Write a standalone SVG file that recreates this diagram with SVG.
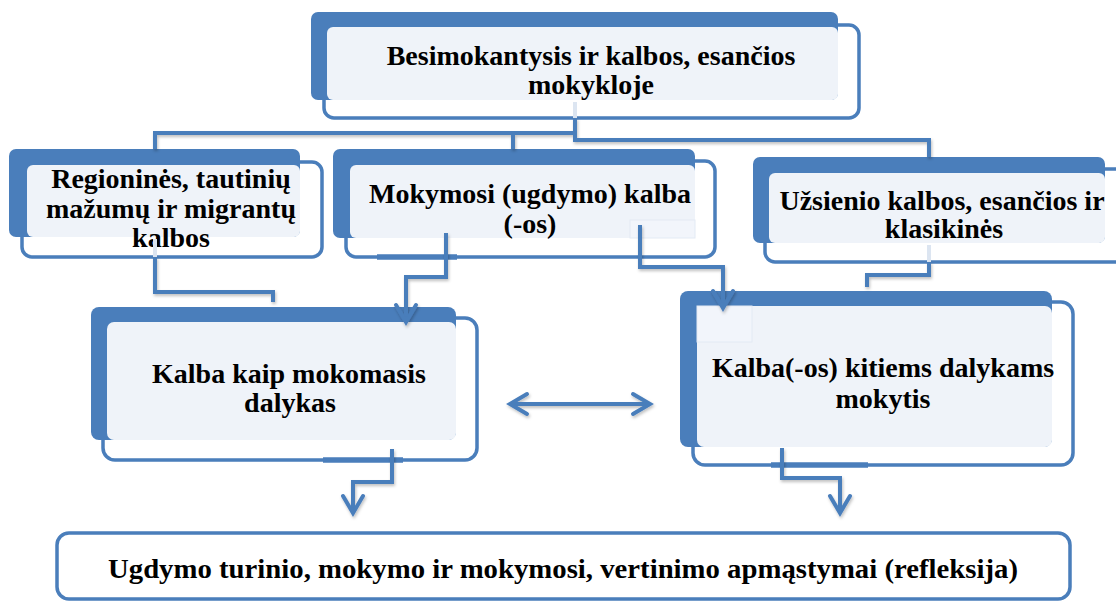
<svg xmlns="http://www.w3.org/2000/svg" width="1116" height="601" viewBox="0 0 1116 601">
  <style>
    .band { fill: #4A7EBB; }
    .frame { fill: #FFFFFF; stroke: #4A7EBB; stroke-width: 3.5; }
    .inner { fill: #EFF3F9; }
    .ghost { fill: #F2F5FB; stroke: #E3EAF4; stroke-width: 1; }
    .lbl { font-family: "Liberation Serif", "Times New Roman", serif; font-weight: bold; font-size: 28px; fill: #000000; text-anchor: middle; }
    .wire { fill: none; stroke: #4A7EBB; stroke-width: 4; stroke-linejoin: miter; }
    .pale { fill: none; stroke: #DCE5F1; stroke-width: 4; }
    .thick { fill: none; stroke: #4A7EBB; stroke-width: 5.5; }
  </style>
  <defs>
    <marker id="chev" viewBox="-22 -14 26 28" refX="0" refY="0" markerWidth="26" markerHeight="28" markerUnits="userSpaceOnUse" orient="auto-start-reverse">
      <path d="M -17 -10 L 0 0 L -17 10" fill="none" stroke="#4A7EBB" stroke-width="4" stroke-linecap="round" stroke-linejoin="miter"/>
    </marker>
    <filter id="shade" x="-20%" y="-20%" width="140%" height="140%">
      <feDropShadow dx="1" dy="2" stdDeviation="1.5" flood-color="#000000" flood-opacity="0.25"/>
    </filter>
  </defs>

  <!-- top node -->
  <g id="node-top">
    <rect class="frame" x="324" y="25" width="535" height="93" rx="10"/>
    <rect class="band" x="311" y="12" width="527" height="88" rx="7"/>
    <rect class="inner" x="327" y="27" width="511" height="73" rx="6"/>
    <text class="lbl" x="591" y="65">Besimokantysis ir kalbos, esančios</text>
    <text class="lbl" x="591" y="94">mokykloje</text>
  </g>

  <!-- regional / minority / migrant languages -->
  <g id="node-regional">
    <rect class="frame" x="22" y="162" width="300" height="95" rx="10"/>
    <rect class="band" x="9" y="149" width="291" height="88" rx="7"/>
    <rect class="inner" x="27" y="165" width="273" height="72" rx="6"/>
    <text class="lbl" x="171" y="188">Regioninės, tautinių</text>
    <text class="lbl" x="171" y="218">mažumų ir migrantų</text>
    <text class="lbl" x="171" y="247">kalbos</text>
  </g>

  <!-- language of instruction -->
  <g id="node-instruction">
    <rect class="frame" x="346" y="161" width="369" height="96" rx="10"/>
    <rect class="band" x="333" y="149" width="362" height="89" rx="7"/>
    <rect class="inner" x="350" y="165" width="345" height="73" rx="6"/>
    <rect class="ghost" x="630" y="220" width="65" height="18"/>
    <text class="lbl" x="530" y="203">Mokymosi (ugdymo) kalba</text>
    <text class="lbl" x="530" y="233">(-os)</text>
  </g>

  <!-- foreign and classical languages -->
  <g id="node-foreign">
    <rect class="frame" x="765" y="169" width="360" height="93" rx="10"/>
    <rect class="band" x="753" y="157" width="352" height="86" rx="7"/>
    <rect class="inner" x="769" y="173" width="336" height="70" rx="6"/>
    <text class="lbl" x="942" y="210">Užsienio kalbos, esančios ir</text>
    <text class="lbl" x="944" y="238">klasikinės</text>
  </g>

  <!-- language as a subject -->
  <g id="node-subject">
    <rect class="frame" x="103" y="318" width="374" height="142" rx="12"/>
    <rect class="band" x="91" y="307" width="365" height="133" rx="8"/>
    <rect class="inner" x="107" y="322" width="349" height="118" rx="7"/>
    <text class="lbl" x="289" y="383">Kalba kaip mokomasis</text>
    <text class="lbl" x="290" y="412">dalykas</text>
  </g>

  <!-- language for learning other subjects -->
  <g id="node-other">
    <rect class="frame" x="693" y="302" width="380" height="163" rx="12"/>
    <rect class="band" x="680" y="291" width="372" height="156" rx="8"/>
    <rect class="inner" x="697" y="306" width="355" height="141" rx="7"/>
    <rect class="ghost" x="697" y="306" width="55" height="36"/>
    <text class="lbl" x="883" y="377">Kalba(-os) kitiems dalykams</text>
    <text class="lbl" x="883" y="408">mokytis</text>
  </g>

  <!-- reflection -->
  <g id="node-reflection">
    <rect class="frame" x="57" y="533" width="1013" height="66" rx="12"/>
    <text class="lbl" x="563" y="578" textLength="910" lengthAdjust="spacingAndGlyphs">Ugdymo turinio, mokymo ir mokymosi, vertinimo apmąstymai (refleksija)</text>
  </g>

  <!-- connectors -->
  <g id="connectors">
    <path class="pale" d="M 575 102 V 118"/>
    <path class="pale" d="M 155 239 V 257"/>
    <path class="pale" d="M 929 245 V 262"/>
    <path class="thick" d="M 377 257 H 457"/>
    <path class="thick" d="M 323 460 H 403"/>
    <path class="thick" d="M 771 465 H 868"/>
    <g filter="url(#shade)">
      <path class="wire" d="M 575 118 V 133 H 155 V 149"/>
      <path class="wire" d="M 513 133 V 149"/>
      <path class="wire" d="M 575 133 V 140 H 929 V 157"/>
      <path class="wire" d="M 155 257 V 292 H 273 V 302"/>
      <path class="wire" d="M 446 233 V 277 H 406 V 322" marker-end="url(#chev)"/>
      <path class="wire" d="M 640 225 V 267 H 723 V 308" marker-end="url(#chev)"/>
      <path class="wire" d="M 929 262 V 275 H 867 V 287"/>
      <path class="wire" d="M 510 404 H 650" marker-start="url(#chev)" marker-end="url(#chev)"/>
      <path class="wire" d="M 392 449 V 482 H 353 V 513" marker-end="url(#chev)"/>
      <path class="wire" d="M 782 448 V 478 H 840 V 513" marker-end="url(#chev)"/>
    </g>
  </g>
</svg>
